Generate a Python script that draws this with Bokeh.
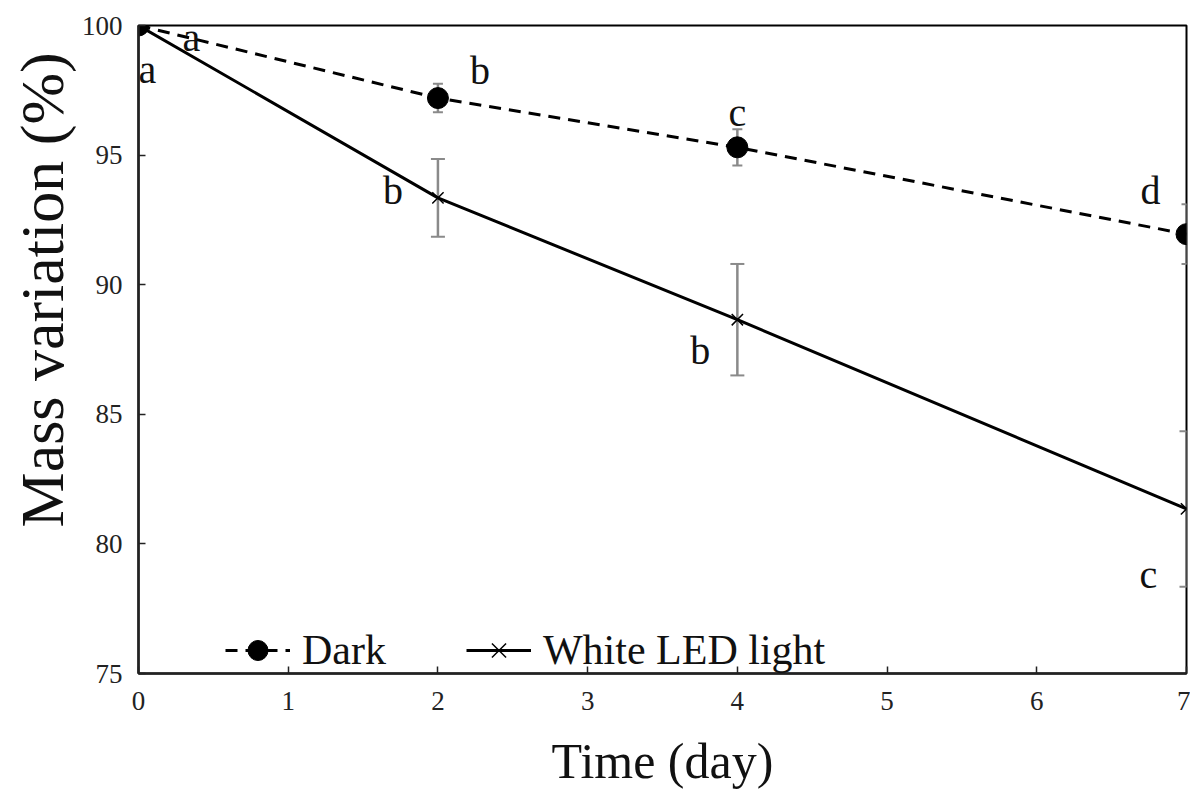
import math
from bokeh.plotting import figure
from bokeh.models import (Range1d, Whisker, ColumnDataSource, Legend, LegendItem,
                          Title, FixedTicker, TeeHead)
from bokeh.core.properties import value
from bokeh.embed import file_html
from bokeh.resources import INLINE

# ---------------- data ----------------
days = [0, 2, 4, 7]
dark_mean = [100.0, 97.2, 95.3, 91.95]
dark_err = [0.0, 0.55, 0.7, 1.15]
led_mean = [100.0, 93.35, 88.65, 81.35]
led_err = [0.0, 1.5, 2.15, 3.0]
dark_letters = ["a", "b", "c", "d"]
led_letters = ["a", "b", "b", "c"]
x_ticks = [0, 1, 2, 3, 4, 5, 6, 7]
y_ticks = [75, 80, 85, 90, 95, 100]
x_title = "Time (day)"
y_title = "Mass variation (%)"

# label offsets (screen px) relative to their points
dark_dx = [53, 42, 0, -36]
dark_dy = [12, -28, -35, -44]
led_dx = [9, -45, -37, -38]
led_dy = [44, -7, 31, 66]

FONT = "Liberation Serif"

p = figure(width=1190, height=792, x_range=Range1d(0, 7), y_range=Range1d(75, 100),
           output_backend="svg", toolbar_location=None,
           min_border_left=138, min_border_right=4, min_border_top=25, min_border_bottom=119)
p.xgrid.visible = False
p.ygrid.visible = False
p.outline_line_color = "black"
p.outline_line_width = 2
p.background_fill_color = "white"
p.border_fill_color = "white"

for ax in (p.xaxis[0], p.yaxis[0]):
    ax.axis_line_color = "#222222"
    ax.axis_line_width = 2.5
    ax.major_tick_in = 7
    ax.major_tick_out = 0
    ax.major_tick_line_color = "#222222"
    ax.major_tick_line_width = 1.5
    ax.minor_tick_line_color = None
    ax.major_label_text_font = FONT
    ax.major_label_text_font_size = "27px"
    ax.major_label_text_color = "#222222"

p.xaxis.ticker = FixedTicker(ticks=x_ticks)
p.yaxis.ticker = FixedTicker(ticks=y_ticks)
p.xaxis.major_label_standoff = 18
p.yaxis.major_label_standoff = 16
p.xaxis.axis_label = x_title
p.xaxis.axis_label_text_font = FONT
p.xaxis.axis_label_text_font_size = "50px"
p.xaxis.axis_label_text_font_style = "normal"
p.xaxis.axis_label_text_color = "#111111"
p.xaxis.axis_label_standoff = 20

# error bars
def err_source(x, m, e):
    rows = [(xi, mi - ei, mi + ei) for xi, mi, ei in zip(x, m, e) if ei > 0]
    return ColumnDataSource(dict(x=[r[0] for r in rows], lo=[r[1] for r in rows], hi=[r[2] for r in rows]))

ERR_COLOR = "#8a8a8a"
w_led = Whisker(source=err_source(days, led_mean, led_err), base="x", lower="lo", upper="hi",
                line_color=ERR_COLOR, line_width=2.5, level="underlay",
                upper_head=TeeHead(size=14, line_color=ERR_COLOR, line_width=2),
                lower_head=TeeHead(size=14, line_color=ERR_COLOR, line_width=2))
w_dark = Whisker(source=err_source(days, dark_mean, dark_err), base="x", lower="lo", upper="hi",
                 line_color=ERR_COLOR, line_width=2.5, level="underlay",
                 upper_head=TeeHead(size=10, line_color=ERR_COLOR, line_width=2),
                 lower_head=TeeHead(size=10, line_color=ERR_COLOR, line_width=2))
p.add_layout(w_led)
p.add_layout(w_dark)

# series
dark_line = p.line(days, dark_mean, line_dash="12 8", line_width=3, line_color="black")
dark_pts = p.scatter(days, dark_mean, marker="circle", size=21, fill_color="black", line_color="black")
led_line = p.line(days, led_mean, line_width=3, line_color="black")
led_pts = p.scatter(days, led_mean, marker="x", size=16, line_color="black", line_width=1.5)

# significance letters
src_letters = ColumnDataSource(dict(
    x=days + days,
    y=dark_mean + led_mean,
    t=dark_letters + led_letters,
    dx=dark_dx + led_dx,
    dy=dark_dy + led_dy,
))
p.text(x="x", y="y", text="t", x_offset="dx", y_offset="dy", source=src_letters,
       text_font=value(FONT), text_font_size="40px", text_align="center",
       text_baseline="middle", text_color="#111111")

# legend
legend = Legend(items=[LegendItem(label="Dark", renderers=[dark_line, dark_pts]),
                       LegendItem(label="White LED light", renderers=[led_line, led_pts])],
                orientation="horizontal", location=(87, -2),
                glyph_width=65, glyph_height=50, label_standoff=12, spacing=80,
                padding=0, margin=0, border_line_alpha=0, background_fill_alpha=0,
                label_text_font=FONT, label_text_font_size="42px", label_text_color="#111111")
p.add_layout(legend)

# y-axis title (placed off-centre as in the reference)
p.add_layout(Title(text=y_title, align="left", offset=146, standoff=6,
                   text_font=FONT, text_font_size="62px", text_font_style="normal",
                   text_color="#111111"), "left")

open("out.html", "w").write(file_html(p, INLINE))
